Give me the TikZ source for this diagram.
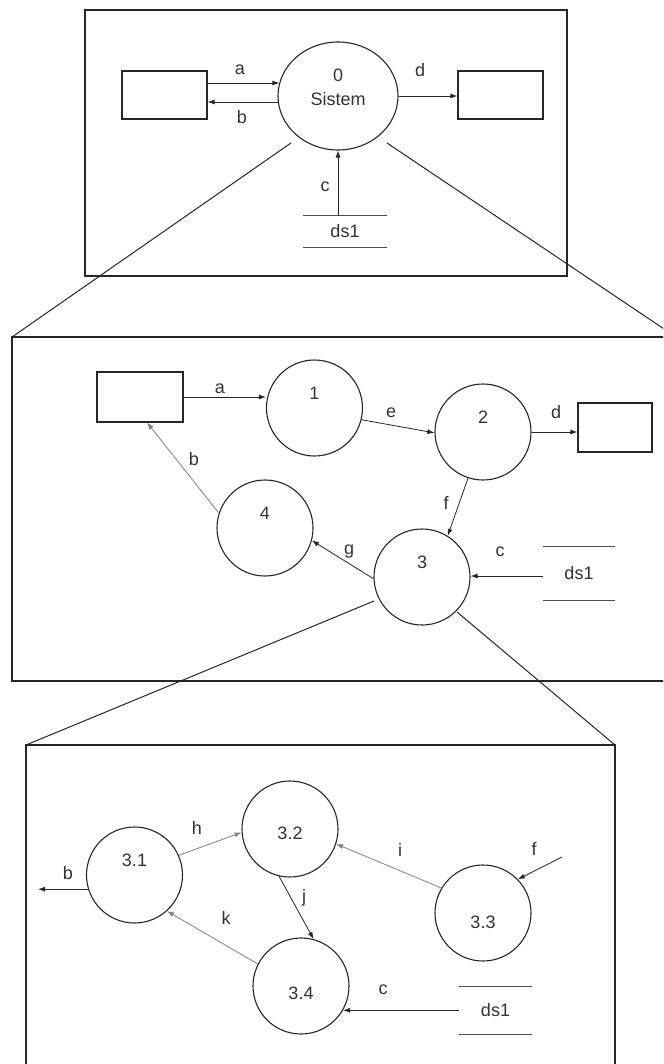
\documentclass[tikz,border=0pt]{standalone}
\usepackage{fontspec}
\setmainfont{Liberation Sans}
\usetikzlibrary{arrows.meta,shapes.geometric}
\begin{document}
\begin{tikzpicture}[x=1pt,y=-1pt,
  frame/.style={line width=1.3pt, draw=black!85},
  proc/.style={circle, draw=black!85, line width=1.1pt, minimum size=96pt, inner sep=0pt},
  ext/.style={rectangle, draw=black!85, line width=1.1pt, inner sep=0pt},
  store/.style={rectangle, inner sep=0pt, text=black!80},
  storeline/.style={line width=1.3pt, draw=black!70},
  flow/.style={draw=black!85, line width=0.8pt, -{Latex[length=7pt,width=5pt]}},
  faint/.style={draw=black!50},
  lbl/.style={text=black!80, inner sep=0pt},
  zoomline/.style={line width=1pt, draw=black!85},
  font=\fontsize{18}{24}\selectfont
]
\useasboundingbox (0,0) rectangle (663,1064);
\fill[white] (0,0) rectangle (663,1064);
\clip (0,0) rectangle (663,1064);

% ---------------- context level ----------------
\draw[frame] (85,10) rectangle (567,276);
\node[ellipse, draw=black!85, line width=1.1pt, minimum width=120pt, minimum height=108pt, inner sep=0pt,
      label={[lbl, align=center, yshift=9pt]center:0\\Sistem}] (c0) at (338,96) {};
\node[ext, minimum width=85pt, minimum height=48pt] (r1) at (164.5,95) {};
\node[ext, minimum width=85pt, minimum height=48pt] (r2) at (500.5,95) {};
\node[store, minimum width=84pt, minimum height=31pt] (s0) at (345,231.5) {ds1};
\draw[storeline] (s0.north west) -- (s0.north east);
\draw[storeline] (s0.south west) -- (s0.south east);

\draw[flow] ([yshift=12pt]r1.east) -- ([yshift=12pt]r1.east -| c0.167);
\draw[flow] ([yshift=-7pt]r1.east -| c0.186) -- ([yshift=-7pt]r1.east);
\draw[flow] (c0.east) -- (c0.east -| r2.west);
\draw[flow] (s0.north -| c0.south) -- (c0.south);
\node[lbl] (la0) at (240,70) {a};
\node[lbl] (lb0) at (242,117) {b};
\node[lbl] (ld0) at (420,70) {d};
\node[lbl] (lc0) at (325,187) {c};

% ---------------- level 1 ----------------
\coordinate (z1l) at (291,143);
\coordinate (z1r) at (387,143);
\coordinate (b2tl) at (12,337);
\coordinate (b2tr) at (676,337);
\draw[zoomline] (z1l) -- (b2tl);
\draw[zoomline] (z1r) -- (b2tr);
\draw[frame] (b2tl) rectangle (676,681);

\node[ext, minimum width=86pt, minimum height=50pt] (e1) at (140,397) {};
\node[ext, minimum width=74pt, minimum height=49pt] (e2) at (615,427.5) {};
\node[proc, label={[lbl,yshift=15pt]center:1}] (p1) at (314.5,408) {};
\node[proc, label={[lbl,yshift=15pt]center:2}] (p2) at (483,432) {};
\node[proc, label={[lbl,yshift=15pt]center:4}] (p4) at (265,528) {};
\node[proc, label={[lbl,yshift=15pt]center:3}] (p3) at (422,577) {};
\node[store, minimum width=72pt, minimum height=53pt] (s1) at (579,573.5) {ds1};
\draw[storeline] (s1.north west) -- (s1.north east);
\draw[storeline] (s1.south west) -- (s1.south east);

\draw[flow] (e1.east) -- (e1.east -| p1.west);
\draw[flow] (p1.-14) -- (p2.181);
\draw[flow] (p2.east) -- (p2.east -| e2.west);
\draw[flow] (p2.252) -- (p3.58);
\draw[flow] (p3.182) -- (p4.-15);
\draw[flow, faint] (p4.162) -- ([xshift=7pt]e1.south);
\draw[flow] ([yshift=-2.5pt]s1.west) -- ([yshift=-2.5pt]s1.west -| p3.east);
\node[lbl] (la1) at (220,389) {a};
\node[lbl] (le1) at (391,413) {e};
\node[lbl] (ld1) at (556,412) {d};
\node[lbl] (lf1) at (446,503) {f};
\node[lbl] (lg1) at (349,552) {g};
\node[lbl] (lb1) at (194,459) {b};
\node[lbl] (lc1) at (500,552) {c};

% ---------------- level 2 (process 3) ----------------
\coordinate (z2l) at (374,601);
\coordinate (z2r) at (457,612);
\coordinate (b3tl) at (26,745);
\coordinate (b3tr) at (615,745);
\draw[zoomline] (z2l) -- (b3tl);
\draw[zoomline] (z2r) -- (b3tr);
\draw[frame] (26,1080) -- (b3tl) -- (b3tr) -- (615,1080);

\node[proc, label={[lbl,yshift=15pt]center:3.1}] (q1) at (134.5,875) {};
\node[proc, label={[lbl,yshift=-4pt]center:3.2}] (q2) at (290,829) {};
\node[proc, label={[lbl,yshift=-9pt]center:3.3}] (q3) at (483,913) {};
\node[proc, label={[lbl,yshift=-7pt]center:3.4}] (q4) at (301,986) {};
\node[store, minimum width=73pt, minimum height=47pt] (s2) at (495.5,1010.5) {ds1};
\draw[storeline] (s2.north west) -- (s2.north east);
\draw[storeline] (s2.south west) -- (s2.south east);
\coordinate (bout) at (38,889);
\coordinate (fin) at (562,857);

\draw[flow] (q1.197) -- (q1.197 -| bout);
\draw[flow, faint] (q1.24) -- (q2.184);
\draw[flow, faint] (q3.149) -- (q2.-18);
\draw[flow] (fin) -- (q3.44);
\draw[flow] (q2.257) -- (q4.75);
\draw[flow, faint] (q4.153) -- (q1.-48);
\draw[flow] (s2.west |- q4.-30) -- (q4.-30);
\node[lbl] (lb2) at (68,873) {b};
\node[lbl] (lh2) at (197,828) {h};
\node[lbl] (li2) at (400,850) {i};
\node[lbl] (lf2) at (534,849) {f};
\node[lbl] (lj2) at (304,898) {j};
\node[lbl] (lk2) at (226,918) {k};
\node[lbl] (lc2) at (383,990) {c};
\end{tikzpicture}
\end{document}
